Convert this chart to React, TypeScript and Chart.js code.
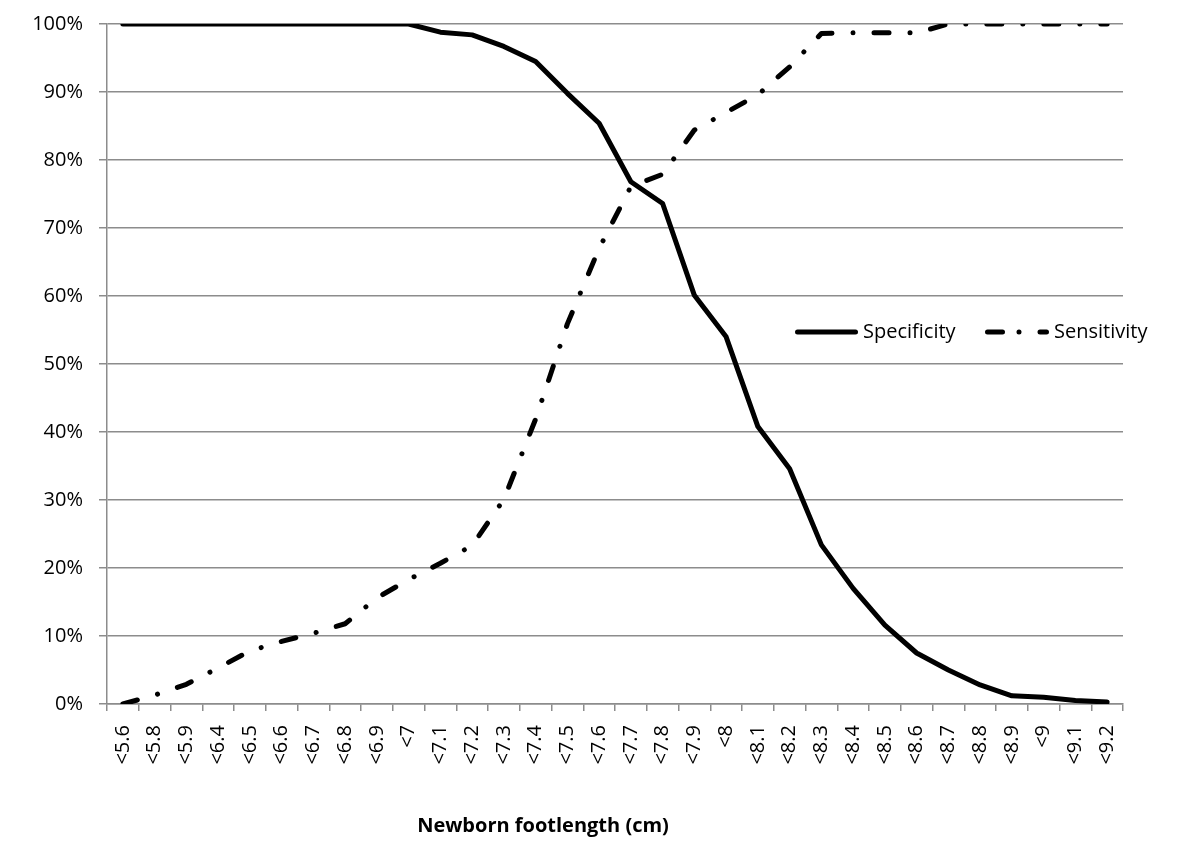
import React, { useEffect, useRef } from "react";
import { Chart, registerables } from "chart.js";
Chart.register(...registerables);

const categories = [
  "<5.6", "<5.8", "<5.9", "<6.4", "<6.5", "<6.6", "<6.7", "<6.8", "<6.9", "<7",
  "<7.1", "<7.2", "<7.3", "<7.4", "<7.5", "<7.6", "<7.7", "<7.8", "<7.9", "<8",
  "<8.1", "<8.2", "<8.3", "<8.4", "<8.5", "<8.6", "<8.7", "<8.8", "<8.9", "<9",
  "<9.1", "<9.2",
];
const specificity = [
  100, 100, 100, 100, 100, 100, 100, 100, 100, 100,
  98.8, 98.4, 96.7, 94.5, 89.8, 85.4, 76.8, 73.6, 60.1, 54.0,
  40.8, 34.6, 23.4, 17.0, 11.6, 7.5, 5.0, 2.8, 1.2, 1.0,
  0.5, 0.3,
];
const sensitivity = [
  0, 1.3, 2.9, 5.3, 7.8, 9.2, 10.4, 11.8, 15.6, 18.3,
  20.7, 23.3, 30.1, 41.9, 55.9, 67.0, 76.1, 77.9, 84.4, 87.0,
  89.6, 93.7, 98.6, 98.7, 98.7, 98.7, 100, 100, 100, 100,
  100, 100,
];
const yTickValues = [0, 10, 20, 30, 40, 50, 60, 70, 80, 90, 100];
const seriesNames = ["Specificity", "Sensitivity"];
const xTitle = "Newborn footlength (cm)";

const FONT = "'Open Sans', sans-serif";
const GRID = "#8c8c8c";
const DASH = [15, 21, 0.01, 21];

const overlayPlugin = {
  id: "overlay",
  afterDraw(chart: any) {
    const ctx = chart.ctx;
    const ds = chart.data.datasets;
    ctx.save();
    const ly = 332;
    const items = [
      { x0: 795, x1: 858, tx: 863, dash: [] as number[] },
      { x0: 985, x1: 1049, tx: 1054, dash: [15, 16.5, 0.01, 21] },
    ];
    items.forEach((it, i) => {
      const d = ds[i];
      ctx.beginPath();
      ctx.strokeStyle = d.borderColor;
      ctx.lineWidth = d.borderWidth;
      ctx.lineCap = "round";
      ctx.setLineDash(d.borderDash ? it.dash : []);
      ctx.lineDashOffset = 0;
      ctx.moveTo(it.x0 + 2.5, ly);
      ctx.lineTo(it.x1 - 2.5, ly);
      ctx.stroke();
      ctx.setLineDash([]);
      ctx.fillStyle = "#000";
      ctx.font = `20px ${FONT}`;
      ctx.textBaseline = "middle";
      ctx.textAlign = "left";
      ctx.fillText(d.label, it.tx, ly);
    });
    ctx.font = `bold 20px ${FONT}`;
    ctx.textAlign = "center";
    ctx.textBaseline = "middle";
    ctx.fillStyle = "#000";
    ctx.fillText(xTitle, 543, 826);
    ctx.restore();
  },
};

export default function App() {
  const ref = useRef<HTMLCanvasElement>(null);
  useEffect(() => {
    const chart = new Chart(ref.current as HTMLCanvasElement, {
      type: "line",
      data: {
        labels: categories,
        datasets: [
          {
            label: seriesNames[0],
            data: specificity,
            borderColor: "#000",
            borderWidth: 5,
            pointRadius: 0,
            tension: 0,
            borderJoinStyle: "round",
            borderCapStyle: "round",
          },
          {
            label: seriesNames[1],
            data: sensitivity,
            borderColor: "#000",
            borderWidth: 5,
            pointRadius: 0,
            tension: 0,
            borderDash: DASH,
            borderJoinStyle: "round",
            borderCapStyle: "round",
          },
        ],
      },
      options: {
        responsive: false,
        animation: false,
        layout: { padding: { left: 0, right: 77, top: 24, bottom: 0 } },
        plugins: {
          legend: { display: false },
          tooltip: { enabled: false },
          title: { display: false },
        },
        scales: {
          x: {
            offset: true,
            grid: {
              display: true,
              offset: true,
              drawOnChartArea: false,
              drawTicks: true,
              tickLength: 7,
              color: GRID,
              lineWidth: 1.5,
            },
            border: { color: GRID, width: 1.5 },
            ticks: {
              autoSkip: false,
              minRotation: 90,
              maxRotation: 90,
              padding: 14,
              color: "#000",
              font: { family: FONT, size: 20 },
            },
            afterFit(scale: any) {
              scale.height = 154;
              scale.paddingLeft = 0;
              scale.paddingRight = 0;
            },
          },
          y: {
            min: 0,
            max: 100,
            grid: {
              color: GRID,
              lineWidth: 1.5,
              tickLength: 8,
            },
            border: { color: GRID, width: 1.5 },
            afterBuildTicks(scale: any) {
              scale.ticks = yTickValues.map((v) => ({ value: v }));
            },
            ticks: {
              padding: 16,
              color: "#000",
              font: { family: FONT, size: 20 },
              callback: (v: any) => `${v}%`,
            },
            afterFit(scale: any) {
              scale.width = 107;
              scale.paddingTop = 0;
              scale.paddingBottom = 0;
            },
          },
        },
      },
      plugins: [overlayPlugin],
    } as any);
    return () => chart.destroy();
  }, []);
  return (
    <div style={{ position: "fixed", left: 0, top: 0, width: 1200, height: 858, background: "#fff" }}>
      <canvas ref={ref} width={1200} height={858} style={{ width: 1200, height: 858, display: "block" }} />
    </div>
  );
}
